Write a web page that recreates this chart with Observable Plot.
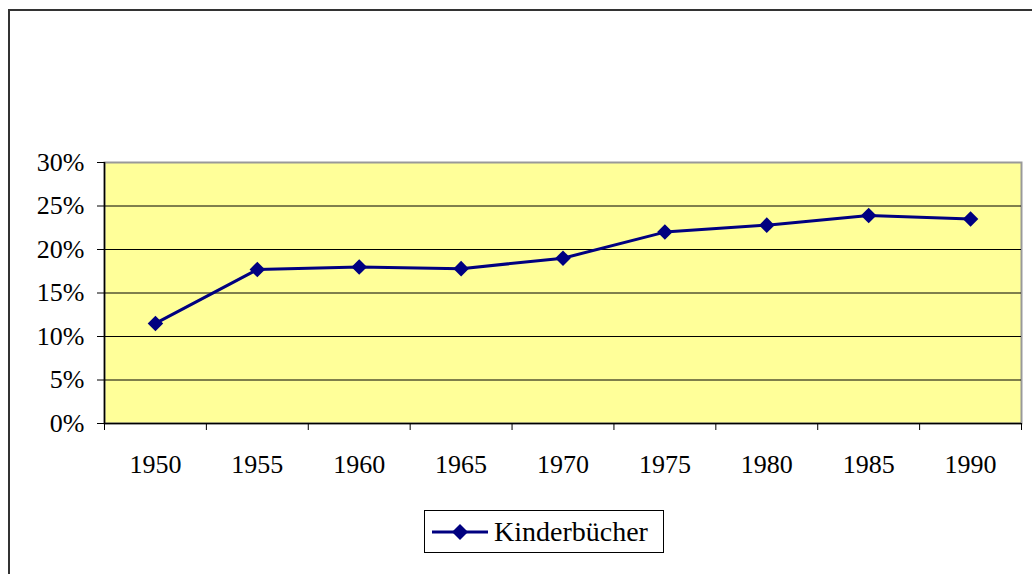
<!DOCTYPE html>
<html>
<head>
<meta charset="utf-8">
<script src="https://cdn.jsdelivr.net/npm/d3@7"></script>
<script src="https://cdn.jsdelivr.net/npm/@observablehq/plot@0.6"></script>
<style>
  html, body { margin: 0; padding: 0; background: #fff; width: 1032px; height: 574px; overflow: hidden; }
  #frame { position: absolute; left: 8px; top: 9px; width: 1040px; height: 580px;
           border-left: 2px solid #333; border-top: 2px solid #333; pointer-events: none; }
  #chart { position: absolute; left: 0; top: 0; }
  #legend { position: absolute; left: 424px; top: 510px; width: 238px; height: 41px;
            border: 1px solid #000; background: #fff; display: flex; align-items: center;
            font-family: "Times New Roman", Times, "Liberation Serif", serif; font-size: 28px; color: #000; }
  #legend svg { margin-left: 7px; margin-right: 6px; }
</style>
</head>
<body>
<div id="chart"></div>
<div id="frame"></div>
<div id="legend"><svg width="56" height="20" viewBox="0 0 56 20"><line x1="0" y1="10" x2="56" y2="10" stroke="#000080" stroke-width="3"/><path d="M28,2 L36,10 L28,18 L20,10 Z" fill="#000080"/></svg><span id="legendLabel"></span></div>
<script>
const seriesName = "Kinderbücher";
const years = [1950, 1955, 1960, 1965, 1970, 1975, 1980, 1985, 1990];
const shares = [0.115, 0.177, 0.180, 0.178, 0.190, 0.220, 0.228, 0.239, 0.235];
const yTicks = [0, 0.05, 0.10, 0.15, 0.20, 0.25, 0.30];

document.getElementById("legendLabel").textContent = seriesName;

const data = years.map((year, i) => ({year, share: shares[i]}));
const step = years[1] - years[0];
const xDomain = [years[0] - step / 2, years[years.length - 1] + step / 2];
const boundaries = d3.range(years.length + 1).map(i => xDomain[0] + i * step);
const gridTicks = yTicks.filter(v => v > 0 && v < 0.3);

const chart = Plot.plot({
  width: 1032,
  height: 500,
  marginLeft: 104,
  marginRight: 11,
  marginTop: 162,
  marginBottom: 77,
  style: { fontFamily: "'Times New Roman', Times, 'Liberation Serif', serif", fontSize: "26px", color: "#000", background: "transparent" },
  x: { type: "linear", domain: xDomain, label: null },
  y: { domain: [0, 0.3], label: null },
  marks: [
    Plot.frame({ fill: "#FFFF99", stroke: "#999", strokeWidth: 2 }),
    Plot.ruleY(gridTicks, { stroke: "#000", strokeWidth: 1 }),
    Plot.axisY({ ticks: yTicks, tickSize: 7, tickPadding: 13, label: null, tickFormat: d => Math.round(d * 100) + "%", stroke: "#000", strokeOpacity: 1 }),
    Plot.axisX({ ticks: boundaries, tickSize: 7, label: null, tickFormat: () => "", stroke: "#000", strokeOpacity: 1 }),
    Plot.axisX({ ticks: years, tickSize: 0, tickPadding: 31, label: null, tickFormat: d => String(d) }),
    Plot.ruleX([xDomain[0]], { stroke: "#000", strokeWidth: 1.5 }),
    Plot.ruleY([0], { stroke: "#000", strokeWidth: 1.5 }),
    Plot.line(data, { x: "year", y: "share", stroke: "#000080", strokeWidth: 3 }),
    Plot.dot(data, { x: "year", y: "share", symbol: "diamond2", r: 7, fill: "#000080", stroke: "none" })
  ]
});
document.getElementById("chart").appendChild(chart);
</script>
</body>
</html>
